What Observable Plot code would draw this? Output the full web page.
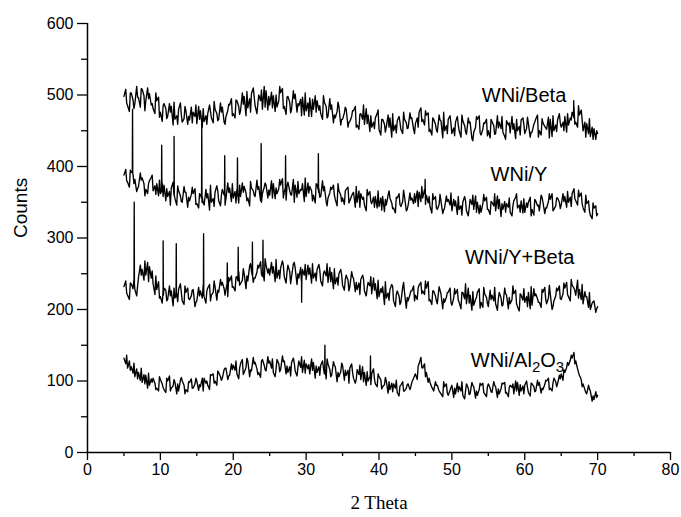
<!DOCTYPE html>
<html><head><meta charset="utf-8">
<script src="https://cdn.jsdelivr.net/npm/d3@7"></script>
<script src="https://cdn.jsdelivr.net/npm/@observablehq/plot@0.6"></script>
<style>body{margin:0;background:#fff}</style>
</head><body><div id="chart"></div>
<script>
// 2-theta sampling: grid points at 5, 5.5, ... 70; in-between readings at +0.25 and +0.375
const xStart = 5, xStep = 0.5, midOffset = 0.25, thirdOffset = 0.375;

// ---- WNi/Beta ----
const beta = [
498,485,503,488,496,508,492,502,481,492,
476,488,470,484,466,480,462,478,465,476,
460,478,463,474,468,480,466,483,470,486,
474,492,478,498,482,502,485,500,480,506,
486,499,483,503,484,498,480,501,485,497,
478,496,480,492,474,490,470,486,468,484,
466,480,463,478,458,474,459,472,455,468,
452,466,455,468,450,464,452,466,454,468,
460,476,466,472,452,466,448,464,450,466,
446,462,450,464,445,462,448,466,444,460,
450,463,446,462,448,464,447,460,450,465,
446,460,448,466,450,461,452,466,450,465,
455,470,458,476,462,472,450,460,442,453,
446];
const betaMid = [
508,477,493,512,483,499,510,486,474,497,
463,481,488,458,471,489,467,459,483,470,
484,455,471,486,461,474,489,462,478,495,
468,484,503,471,495,510,474,492,512,479,
504,477,492,509,473,490,506,476,494,472,
489,470,499,479,466,484,495,461,477,458,
475,455,470,484,452,466,481,449,462,474,
444,459,472,441,458,470,446,461,475,452,
468,482,458,475,444,459,472,440,457,471,
454,470,441,457,468,439,455,471,452,466,
440,457,471,453,442,458,470,439,456,468,
453,441,459,472,444,456,469,442,458,474,
462,448,468,484,455,479,462,446,455,438];
const betaThird = [
489,503,481,497,509,478,495,488,503,469,
485,467,476,490,459,472,484,470,461,486,
466,481,459,477,491,464,476,459,487,471,
493,473,487,505,476,497,488,507,483,498,
482,500,512,481,497,475,495,488,471,503,
470,494,476,485,499,468,480,472,490,466,
483,462,478,455,473,486,460,471,453,479,
466,448,455,474,447,462,476,453,467,446,
455,463,478,449,468,451,465,476,446,460,
443,458,472,449,461,436,470,447,461,443,
466,445,454,470,438,461,452,466,444,459,
469,448,462,441,467,454,440,471,449,461,
450,474,465,459,485,466,441,467,438,450];
const betaPeaks = [[66.7,470],[66.72,492],[66.74,468]];

// ---- WNi/Y ----
const zeoY = [
388,378,392,382,372,384,368,380,366,376,
362,374,358,370,355,366,350,364,352,362,
348,360,346,362,350,364,352,368,355,370,
356,368,358,372,356,370,358,372,362,374,
360,376,362,374,364,378,360,374,362,376,
358,372,360,374,358,372,356,368,354,366,
356,368,352,364,350,362,346,360,348,358,
344,358,346,356,342,356,344,358,346,356,
350,364,356,360,344,354,340,352,342,354,
338,352,340,350,338,354,340,350,336,352,
340,350,338,354,340,348,336,352,342,352,
336,350,340,352,338,350,342,354,340,356,
346,358,350,362,352,358,342,348,332,342,
334];
const zeoYMid = [
396,371,389,365,391,376,362,385,373,359,
377,352,365,378,346,359,372,343,361,369,
342,357,368,339,355,373,345,360,377,351,
365,349,377,363,345,366,381,352,371,356,
380,355,369,383,353,366,382,357,368,351,
377,366,349,369,380,351,363,374,345,360,
347,371,359,343,366,354,338,365,357,342,
356,337,360,349,335,362,351,338,363,348,
366,351,368,349,335,358,347,334,359,346,
354,333,345,358,331,347,359,334,348,357,
333,345,359,330,351,343,331,357,346,335,
349,357,332,345,360,334,351,362,345,350,
362,343,357,369,346,363,336,352,327,345];
const zeoYThird = [
380,395,376,369,381,359,376,388,361,381,
358,369,346,360,373,351,364,357,371,347,
362,349,356,374,344,366,360,346,364,376,
349,374,364,352,379,360,368,350,377,367,
356,370,382,356,372,361,350,379,367,384,
363,352,376,357,366,345,371,360,376,351,
366,349,362,372,343,357,368,351,343,366,
339,354,366,341,357,347,367,340,353,362,
344,372,347,358,362,342,361,339,351,363,
345,358,332,352,342,360,336,346,361,340,
351,362,341,348,336,356,345,362,336,355,
343,331,354,346,357,342,362,338,356,341,
351,365,344,355,367,348,360,338,349,331];
const zeoYPeaks = [
[6.15,392],[6.18,480],[6.21,390],
[10.15,365],[10.18,430],[10.21,368],
[11.85,362],[11.88,442],[11.91,360],
[15.65,356],[15.68,460],[15.71,350],
[18.8,360],[18.83,415],[18.86,362],
[20.55,365],[20.58,412],[20.61,362],
[23.8,370],[23.83,432],[23.86,366],
[27.15,370],[27.18,415],[27.21,368],
[31.65,368],[31.68,418],[31.71,364],
[46.3,362],[46.33,382],[46.36,360]];

// ---- WNi/Y+Beta ----
const yBeta = [
232,220,236,228,245,256,248,260,236,228,
218,230,214,226,216,228,212,224,214,228,
212,226,218,230,220,232,224,238,228,240,
232,246,236,250,240,254,244,258,246,262,
248,260,244,258,246,262,246,258,244,256,
242,258,244,256,240,254,238,252,236,250,
234,248,232,244,228,242,226,238,222,236,
218,232,216,228,212,226,210,224,212,226,
220,234,226,230,214,226,208,222,210,224,
206,222,210,224,208,220,206,224,210,222,
204,220,208,224,206,220,208,222,204,220,
210,224,206,222,210,224,208,222,212,226,
214,230,218,234,220,228,208,218,200,212,
204];
const yBetaMid = [
240,214,229,219,262,241,266,244,221,239,
209,227,233,205,222,236,207,230,219,204,
231,216,209,235,224,213,242,229,218,247,
226,253,241,229,261,238,252,267,240,251,
266,239,255,268,237,253,264,235,259,248,
262,237,251,263,233,247,259,229,245,256,
227,241,253,225,237,248,219,233,244,215,
229,207,223,235,204,219,231,202,221,233,
214,238,221,239,207,219,232,201,217,230,
216,228,201,215,230,199,214,229,203,217,
227,212,199,216,230,201,214,227,198,213,
218,201,229,215,203,231,216,200,219,233,
222,238,212,230,241,214,225,203,209,196];
const yBetaThird = [
223,237,242,233,248,268,239,254,247,216,
228,212,219,230,211,224,233,215,227,210,
219,234,226,212,240,227,234,220,245,231,
245,234,257,247,264,244,262,249,271,257,
251,270,243,262,252,236,266,250,240,263,
249,264,240,255,250,264,239,257,234,248,
242,226,246,238,221,243,230,246,227,241,
224,239,213,232,221,207,238,217,226,212,
230,222,240,212,226,212,227,215,224,210,
229,213,224,236,209,225,217,202,231,209,
214,231,215,205,222,217,233,208,222,229,
204,232,219,210,228,214,234,204,230,215,
237,221,242,226,216,235,218,224,211,201];
const yBetaPeaks = [
[6.38,238],[6.41,350],[6.44,236],
[10.35,222],[10.38,296],[10.41,220],
[12.15,220],[12.18,292],[12.21,218],
[15.9,220],[15.93,306],[15.96,222],
[19.15,236],[19.18,265],[19.21,234],
[20.65,240],[20.68,287],[20.71,242],
[22.6,248],[22.63,294],[22.66,246],
[24.05,252],[24.08,297],[24.11,250],
[29.35,240],[29.38,210],[29.41,242]];

// ---- WNi/Al2O3 ----
const alumina = [
132,118,120,106,112,98,108,94,104,90,
102,88,100,90,98,86,100,88,98,90,
100,92,104,94,108,100,112,104,118,108,
122,110,124,112,128,114,126,112,130,114,
128,112,130,116,128,112,126,114,128,112,
124,110,126,112,122,110,124,108,120,106,
122,108,118,104,116,102,112,100,110,96,
106,92,100,88,96,84,94,86,96,98,
110,124,118,112,98,86,94,82,92,80,
94,82,92,80,96,82,92,80,94,82,
96,84,92,82,96,84,94,82,98,86,
94,84,96,86,98,88,100,90,104,96,
110,112,122,132,128,108,96,82,86,74,
80];
const aluminaMid = [
124,128,111,117,101,109,90,103,97,86,
96,84,107,93,82,101,94,85,103,96,
87,104,97,88,110,94,106,116,102,124,
115,103,130,119,106,133,117,105,122,134,
118,106,124,135,110,120,132,107,119,129,
117,131,104,120,128,103,116,127,99,113,
101,115,124,97,109,120,94,106,117,92,
102,95,83,97,90,79,99,90,88,104,
102,133,124,98,91,99,86,78,96,87,
77,97,86,75,90,98,76,88,97,78,
90,99,77,89,98,78,91,100,80,93,
100,79,92,101,83,95,104,86,99,108,
101,119,129,140,117,102,88,94,72,85];
const aluminaThird = [
136,115,125,103,118,96,111,98,88,106,
91,104,86,102,96,105,82,99,90,104,
95,86,100,109,97,114,101,118,107,116,
128,118,109,132,116,124,109,128,116,125,
131,117,113,127,121,107,125,119,134,111,
123,115,121,108,118,131,106,122,112,125,
115,97,112,102,122,99,113,95,103,110,
89,105,99,85,101,93,86,95,92,107,
121,119,106,104,89,94,84,99,83,91,
90,85,99,86,81,94,86,97,84,92,
85,94,89,97,83,91,96,86,95,82,
91,97,85,94,90,101,88,97,92,103,
116,126,136,124,112,92,84,89,79,77];
const aluminaPeaks = [[32.55,118],[32.58,150],[32.61,116],[38.8,108],[38.83,135],[38.86,106]];

// Series labels and where they sit (data units)
const seriesNames = ["WNi/Beta", "WNi/Y", "WNi/Y+Beta", "WNi/Al2O3"];
const labelX = [59.9, 59.2, 59.3, 59.0];
const labelY = [499, 389, 272, 129];

const xTicks = [0,10,20,30,40,50,60,70,80];
const xMinor = [5,15,25,35,45,55,65,75];
const yTicks = [0,100,200,300,400,500,600];
const yMinor = [50,150,250,350,450,550];

function build(name, vals, mids, thirds, peaks) {
  const pts = vals.map((v, i) => ({x: xStart + i * xStep, y: v, s: name}));
  mids.forEach((v, i) => pts.push({x: xStart + midOffset + i * xStep, y: v, s: name}));
  thirds.forEach((v, i) => pts.push({x: xStart + thirdOffset + i * xStep, y: v, s: name}));
  for (const [px, py] of peaks) pts.push({x: px, y: py, s: name});
  pts.sort((a, b) => a.x - b.x);
  return pts;
}
const data = [
  ...build(seriesNames[0], beta, betaMid, betaThird, betaPeaks),
  ...build(seriesNames[1], zeoY, zeoYMid, zeoYThird, zeoYPeaks),
  ...build(seriesNames[2], yBeta, yBetaMid, yBetaThird, yBetaPeaks),
  ...build(seriesNames[3], alumina, aluminaMid, aluminaThird, aluminaPeaks)
];
const labels = seriesNames.map((t, i) => ({t, x: labelX[i], y: labelY[i]}));

const plot = Plot.plot({
  width: 681, height: 517,
  marginLeft: 87, marginRight: 11, marginTop: 23, marginBottom: 65,
  x: {domain: [0, 80]},
  y: {domain: [0, 600]},
  style: {fontFamily: "'Liberation Sans', Arial, sans-serif", fontSize: "16px", color: "#000", background: "#fff"},
  marks: [
    Plot.line(data, {x: "x", y: "y", z: "s", stroke: "#000", strokeWidth: 1.35}),
    Plot.axisY({ticks: yTicks, tickSize: 10, tickPadding: 4, label: null, fontSize: 16, strokeWidth: 1.3}),
    Plot.axisY({ticks: yMinor, tickSize: 6, tickFormat: () => "", label: null, strokeWidth: 1.3}),
    Plot.axisX({ticks: xTicks, tickSize: 8, tickPadding: 3, label: null, fontSize: 16, strokeWidth: 1.3}),
    Plot.axisX({ticks: xMinor, tickSize: 4, tickFormat: () => "", label: null, strokeWidth: 1.3}),
    Plot.ruleX([0], {strokeWidth: 1.5}),
    Plot.ruleY([0], {strokeWidth: 1.5}),
    Plot.text(labels, {x: "x", y: "y", text: "t", fontSize: 20, textAnchor: "middle", fill: "#000"}),
    Plot.text(["Counts"], {frameAnchor: "left", dx: -67, rotate: -90, fontSize: 19, fill: "#000"}),
    Plot.text(["2 Theta"], {frameAnchor: "bottom", dy: 56, fontSize: 19, fill: "#000", fontFamily: "'Liberation Serif', 'Times New Roman', serif"})
  ]
});
document.getElementById("chart").appendChild(plot);

// subscripts for Al2O3
plot.querySelectorAll("text").forEach(el => {
  if (el.textContent === "WNi/Al2O3") {
    el.innerHTML = 'WNi/Al<tspan dy="5" font-size="15">2</tspan><tspan dy="-5">O</tspan><tspan dy="5" font-size="15">3</tspan>';
  }
});
</script>
</body></html>
